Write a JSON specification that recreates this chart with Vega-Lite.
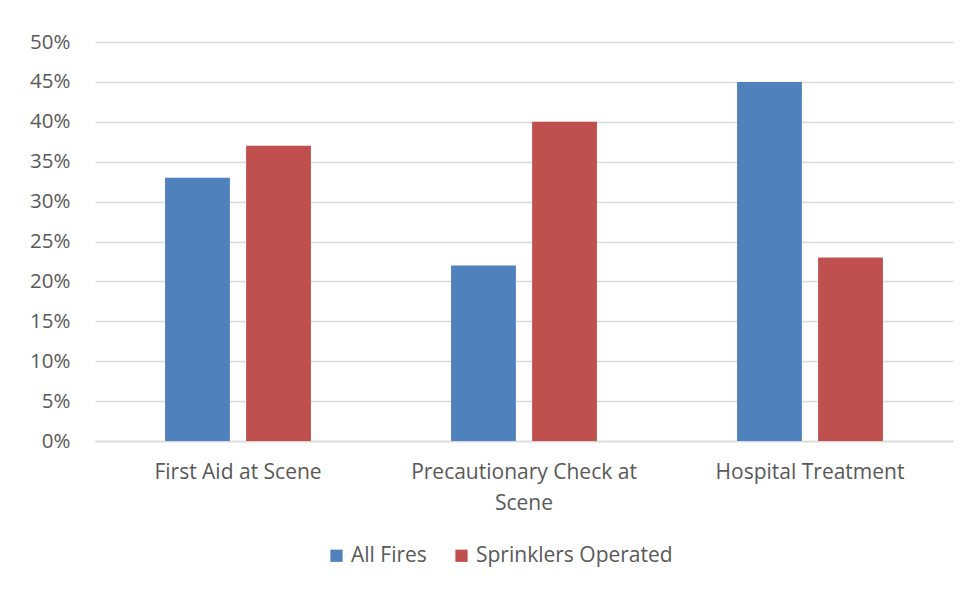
{
  "$schema": "https://vega.github.io/schema/vega-lite/v6.json",
  "width": 858,
  "height": 399,
  "autosize": {"type": "none"},
  "padding": {"left": 95, "top": 42, "right": 15, "bottom": 149},
  "background": "white",
  "data": {
    "values": [
      {"category": "First Aid at Scene", "series": "All Fires", "value": 0.33},
      {"category": "First Aid at Scene", "series": "Sprinklers Operated", "value": 0.37},
      {"category": "Precautionary Check at Scene", "series": "All Fires", "value": 0.22},
      {"category": "Precautionary Check at Scene", "series": "Sprinklers Operated", "value": 0.40},
      {"category": "Hospital Treatment", "series": "All Fires", "value": 0.45},
      {"category": "Hospital Treatment", "series": "Sprinklers Operated", "value": 0.23}
    ]
  },
  "mark": {"type": "bar"},
  "encoding": {
    "x": {
      "field": "category",
      "type": "nominal",
      "sort": null,
      "scale": {"paddingInner": 0.49, "paddingOuter": 0.245},
      "axis": {
        "title": null,
        "labelAngle": 0,
        "ticks": false,
        "domain": true,
        "domainColor": "#d9d9d9",
        "domainWidth": 1.5,
        "labelFont": "Open Sans",
        "labelFontSize": 21,
        "labelColor": "#595959",
        "labelPadding": 31,
        "labelLineHeight": 31,
        "labelBaseline": "middle",
        "labelLimit": 0,
        "labelExpr": "datum.value == 'Precautionary Check at Scene' ? ['Precautionary Check at', 'Scene'] : datum.value"
      }
    },
    "xOffset": {
      "field": "series",
      "type": "nominal",
      "scale": {"paddingInner": 0.2, "paddingOuter": 0}
    },
    "y": {
      "field": "value",
      "type": "quantitative",
      "scale": {"domain": [0, 0.5]},
      "axis": {
        "title": null,
        "format": ".0%",
        "values": [0, 0.05, 0.1, 0.15, 0.2, 0.25, 0.3, 0.35, 0.4, 0.45, 0.5],
        "labelOverlap": false,
        "ticks": false,
        "domain": false,
        "grid": true,
        "gridColor": "#d9d9d9",
        "gridWidth": 1.5,
        "labelFont": "Open Sans",
        "labelFontSize": 20.5,
        "labelColor": "#595959",
        "labelPadding": 25
      }
    },
    "color": {
      "field": "series",
      "type": "nominal",
      "scale": {"domain": ["All Fires", "Sprinklers Operated"], "range": ["#4F81BD", "#C0504D"]},
      "legend": {
        "title": null,
        "orient": "none",
        "direction": "horizontal",
        "legendX": 231,
        "legendY": 503,
        "symbolType": "square",
        "symbolSize": 150,
        "symbolStrokeWidth": 0,
        "labelFont": "Open Sans",
        "labelFontSize": 21,
        "labelColor": "#595959",
        "labelOffset": 4,
        "labelLimit": 0,
        "columnPadding": 24
      }
    }
  },
  "config": {
    "view": {"stroke": null}
  }
}
